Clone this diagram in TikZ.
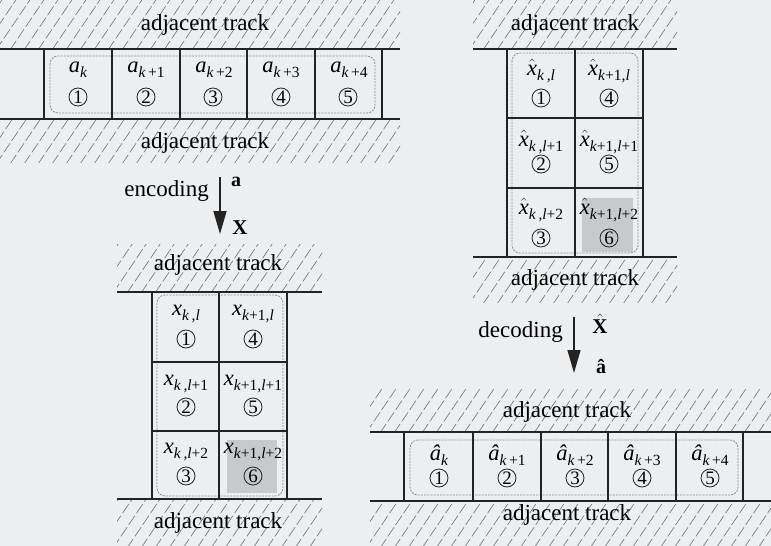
\documentclass[tikz,border=0pt]{standalone}
\usepackage{fontspec}
\setmainfont{Liberation Serif}
\usetikzlibrary{arrows.meta}
\definecolor{bgc}{RGB}{236,238,240}
\definecolor{hatchc}{RGB}{110,110,110}
\definecolor{shadec}{RGB}{200,201,203}
\definecolor{linec}{RGB}{35,35,35}
\newcommand\mysub[1]{\raisebox{-0.5ex}{\fontsize{15.5}{15.5}\selectfont #1}}
\newcommand\itx[1]{\textit{#1}}
\newcommand\lb[2]{#1\mysub{#2}}
\newcommand\hx{\ensuremath{\hat{\mbox{\itshape x}}}}
\newcommand\ha{\textit{â}}
\newcommand\hatchbox[4]{%
  \begin{scope}
    \clip (#1,#2) rectangle (#3,#4);
    \foreach \hh in {0,...,36} {
      \draw[hatchline] ({#1-60+14*\hh},{#4+2}) -- ++(42,-62);
    }
  \end{scope}}
\begin{document}
\begin{tikzpicture}[x=1pt,y=-1pt,
  trackline/.style={line width=1.8pt, linec},
  cellline/.style={line width=1.4pt, linec},
  hatchline/.style={hatchc, line width=0.6pt, dash pattern=on 11pt off 3pt},
  lab/.style={font=\fontsize{22.5}{22.5}\selectfont, inner sep=0pt, anchor=base},
  num/.style={circle, draw=linec, line width=0.8pt, minimum size=18pt, inner sep=0pt, font=\fontsize{19}{19}\selectfont},
  grp/.style={draw=black!45, dash pattern=on 2pt off 1.2pt, line width=0.8pt, rounded corners=8pt},
  adj/.style={font=\fontsize{23}{23}\selectfont, inner sep=0pt},
  arr/.style={line width=1.4pt, linec, -{Triangle[length=23pt,width=13pt]}},
  shd/.style={fill=shadec}]
\useasboundingbox (0,0) rectangle (771,546);
\fill[bgc] (0,0) rectangle (771,546);

% ---------------- top-left track ----------------
\hatchbox{0}{0}{400}{48}
\hatchbox{0}{120}{400}{162}
\node[adj] (tlAdjU) at (205,25) {adjacent track};
\node[adj] (tlAdjD) at (205,143) {adjacent track};
\draw[grp] (50,56) rectangle (375,113);
\draw[trackline] (0,49) -- (400,49);
\draw[trackline] (0,119) -- (400,119);
\foreach \xx in {44,112,180,247,315,382} \draw[cellline] (\xx,49) -- (\xx,119);
\node[lab] (tlL1) at (78,72) {\lb{\itx{a}}{\itx{k}}};
\node[lab] (tlL2) at (146,72) {\lb{\itx{a}}{\itx{k}\,+1}};
\node[lab] (tlL3) at (214,72) {\lb{\itx{a}}{\itx{k}\,+2}};
\node[lab] (tlL4) at (281,72) {\lb{\itx{a}}{\itx{k}\,+3}};
\node[lab] (tlL5) at (349,72) {\lb{\itx{a}}{\itx{k}\,+4}};
\node[num] (tlN1) at (78,97) {1};
\node[num] (tlN2) at (146,97) {2};
\node[num] (tlN3) at (213,97) {3};
\node[num] (tlN4) at (281,97) {4};
\node[num] (tlN5) at (348,97) {5};

% ---------------- encoding arrow ----------------
\coordinate (encA) at (220,177);
\coordinate (encB) at (220,234);
\draw[arr] (encA) -- (encB);
\node[adj, anchor=east] (encT) at (209,191) {encoding};
\node[font=\fontsize{20}{20}\selectfont\bfseries, inner sep=0pt] (encAv) at (236,182) {a};
\node[font=\fontsize{21}{21}\selectfont\bfseries, inner sep=0pt] (encX) at (240,228) {X};

% ---------------- bottom-left grid ----------------
\hatchbox{117}{244}{322}{291}
\hatchbox{117}{500}{322}{546}
\node[adj] (blAdjU) at (218,265) {adjacent track};
\node[adj] (blAdjD) at (218,523) {adjacent track};
\fill[shd] (227,440) rectangle (277,493);
\draw[grp] (157,295) rectangle (283,496);
\draw[trackline] (117,292) -- (322,292);
\draw[trackline] (117,499) -- (322,499);
\foreach \xx in {152,219,287} \draw[cellline] (\xx,292) -- (\xx,499);
\draw[cellline] (152,362) -- (287,362);
\draw[cellline] (152,431) -- (287,431);
\node[lab] (blL1) at (186,315) {\lb{\itx{x}}{\itx{k}\,,\itx{l}}};
\node[lab] (blL4) at (253,315) {\lb{\itx{x}}{\itx{k}+1,\itx{l}}};
\node[lab] (blL2) at (186,385) {\lb{\itx{x}}{\itx{k}\,,\itx{l}+1}};
\node[lab] (blL5) at (253,385) {\lb{\itx{x}}{\itx{k}+1,\itx{l}+1}};
\node[lab] (blL3) at (186,453) {\lb{\itx{x}}{\itx{k}\,,\itx{l}+2}};
\node[lab] (blL6) at (253,453) {\lb{\itx{x}}{\itx{k}+1,\itx{l}+2}};
\node[num] (blN1) at (186,339) {1};
\node[num] (blN4) at (253,339) {4};
\node[num] (blN2) at (186,407) {2};
\node[num] (blN5) at (253,407) {5};
\node[num] (blN3) at (186,476) {3};
\node[num] (blN6) at (253,476) {6};

% ---------------- top-right grid ----------------
\hatchbox{473}{0}{677}{48}
\hatchbox{473}{258}{677}{302}
\node[adj] (trAdjU) at (575,25) {adjacent track};
\node[adj] (trAdjD) at (575,280) {adjacent track};
\fill[shd] (582,198) rectangle (633,252);
\draw[grp] (512,53) rectangle (638,253);
\draw[trackline] (473,49) -- (677,49);
\draw[trackline] (473,257) -- (677,257);
\foreach \xx in {507,575,643} \draw[cellline] (\xx,49) -- (\xx,257);
\draw[cellline] (507,118) -- (643,118);
\draw[cellline] (507,188) -- (643,188);
\node[lab] (trL1) at (541,75) {\lb{\hx}{\itx{k}\,,\itx{l}}};
\node[lab] (trL4) at (609,75) {\lb{\hx}{\itx{k}+1,\itx{l}}};
\node[lab] (trL2) at (541,146) {\lb{\hx}{\itx{k}\,,\itx{l}+1}};
\node[lab] (trL5) at (609,146) {\lb{\hx}{\itx{k}+1,\itx{l}+1}};
\node[lab] (trL3) at (541,214) {\lb{\hx}{\itx{k}\,,\itx{l}+2}};
\node[lab] (trL6) at (609,214) {\lb{\hx}{\itx{k}+1,\itx{l}+2}};
\node[num] (trN1) at (541,98) {1};
\node[num] (trN4) at (609,98) {4};
\node[num] (trN2) at (541,164) {2};
\node[num] (trN5) at (609,164) {5};
\node[num] (trN3) at (541,238) {3};
\node[num] (trN6) at (609,238) {6};

% ---------------- decoding arrow ----------------
\coordinate (decA) at (574,317);
\coordinate (decB) at (574,373);
\draw[arr] (decA) -- (decB);
\node[adj, anchor=east] (decT) at (563,332) {decoding};
\node[font=\fontsize{21}{21}\selectfont\bfseries, inner sep=0pt, anchor=base] (decX) at (600,333) {\ensuremath{\hat{\mbox{\bfseries X}}}};
\node[font=\fontsize{20}{20}\selectfont\bfseries, inner sep=0pt, anchor=base] (decAv) at (601,373) {â};

% ---------------- bottom-right track ----------------
\hatchbox{370}{388}{771}{431}
\hatchbox{370}{502}{771}{546}
\node[adj] (brAdjU) at (567,412) {adjacent track};
\node[adj] (brAdjD) at (567,515) {adjacent track};
\draw[grp] (410,440) rectangle (738,495);
\draw[trackline] (370,432) -- (771,432);
\draw[trackline] (370,501) -- (771,501);
\foreach \xx in {404,473,541,608,676,743} \draw[cellline] (\xx,432) -- (\xx,501);
\node[lab] (brL1) at (439,460) {\lb{\ha}{\itx{k}}};
\node[lab] (brL2) at (507,460) {\lb{\ha}{\itx{k}\,+1}};
\node[lab] (brL3) at (575,460) {\lb{\ha}{\itx{k}\,+2}};
\node[lab] (brL4) at (642,460) {\lb{\ha}{\itx{k}\,+3}};
\node[lab] (brL5) at (710,460) {\lb{\ha}{\itx{k}\,+4}};
\node[num] (brN1) at (439,478) {1};
\node[num] (brN2) at (507,478) {2};
\node[num] (brN3) at (575,478) {3};
\node[num] (brN4) at (642,478) {4};
\node[num] (brN5) at (710,478) {5};
\end{tikzpicture}
\end{document}
